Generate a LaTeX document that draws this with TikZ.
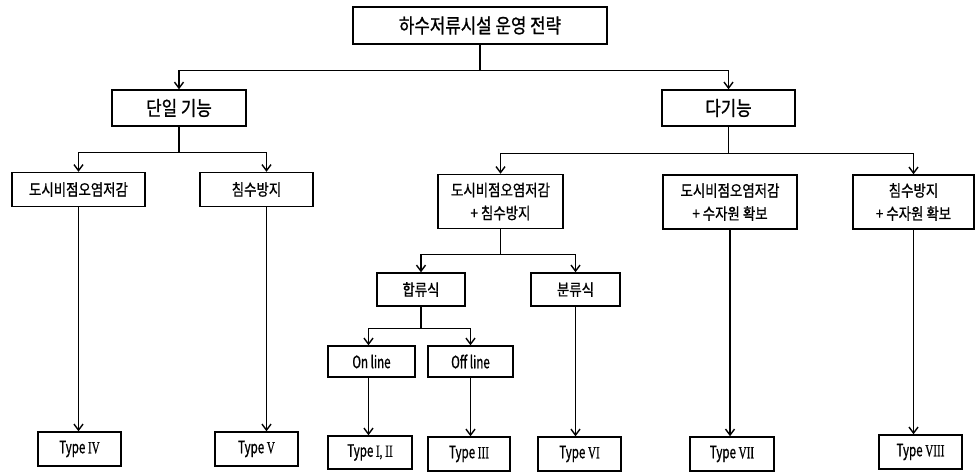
\documentclass[tikz,border=0pt]{standalone}
\usepackage{fontspec}
\setmainfont{Noto Sans CJK KR}[FakeStretch=0.84, FakeBold=0.9]
\newfontfamily\narrowlatin{Noto Sans CJK KR}[FakeStretch=0.68, FakeBold=0.9]
\newfontfamily\numeral{Liberation Serif}[FakeStretch=0.66, FakeBold=0.6]
\usetikzlibrary{arrows.meta}

\newcommand{\rn}[1]{{\numeral #1}}

\tikzset{
  box/.style={draw, line width=1.5pt, inner sep=0pt, align=center,
    minimum width=#1},
  big/.style={font=\fontsize{20}{22}\selectfont, minimum height=36},
  mid/.style={font=\fontsize{16}{23}\selectfont, minimum height=34},
  two/.style={font=\fontsize{16}{23}\selectfont, minimum height=54},
  typ/.style={font=\fontsize{17}{18}\selectfont\narrowlatin, minimum height=34},
  link/.style={line width=1.4pt},
  arr/.style={link, -{Straight Barb[length=6pt,width=9pt,line width=1.4pt]}}
}

\begin{document}
\begin{tikzpicture}[x=1pt, y=-1pt]
  \useasboundingbox (0,0) rectangle (977,475);

  % strategy root and the two main branches
  \node[box=254, big, minimum height=37] (top) at (480,25.5) {하수저류시설 운영 전략};
  \node[box=134, big] (single) at (179,108) {단일 기능};
  \node[box=133, big] (multi) at (728.5,108) {다기능};

  % single-function options
  \node[box=133, mid] (a1) at (78.5,189.5) {도시비점오염저감};
  \node[box=113, mid] (a2) at (256.5,189.5) {침수방지};

  % multi-function options
  \node[box=125, two] (b1) at (500.5,201.5) {도시비점오염저감\\+ 침수방지};
  \node[box=134, two] (b2) at (730,202) {도시비점오염저감\\+ 수자원 확보};
  \node[box=121, two] (b3) at (913.5,202) {침수방지\\+ 수자원 확보};

  % sewer system types
  \node[box=88, mid, minimum height=33] (c1) at (421,289.5) {합류식};
  \node[box=89, mid, minimum height=33] (c2) at (575.5,289.5) {분류식};
  \node[box=87, typ, minimum height=31] (d1) at (371.5,361.5) {On line};
  \node[box=85, typ, minimum height=31] (d2) at (470.5,361.5) {Off line};

  % resulting facility types
  \node[box=83, typ] (t4)  at (79.5,449)   {Type \rn{IV}};
  \node[box=83, typ] (t5)  at (256.5,449)  {Type \rn{V}};
  \node[box=84, typ, minimum height=33] (t12) at (370,452.5) {Type \rn{I, II}};
  \node[box=82, typ] (t3)  at (469,454)    {Type \rn{III}};
  \node[box=83, typ] (t6)  at (579.5,454)  {Type \rn{VI}};
  \node[box=84, typ] (t7)  at (732,454)    {Type \rn{VII}};
  \node[box=83, typ] (t8)  at (920.5,452)  {Type \rn{VIII}};

  % branching connectors
  \draw[arr] (top.south) -- ++(0,26) -| (single.north);
  \draw[arr] (top.south) -- ++(0,26) -| (multi.north);

  \draw[arr] (single.south) -- ++(0,26) -| (a1.north);
  \draw[arr] (single.south) -- ++(0,26) -| ([xshift=10pt]a2.north);

  \draw[arr] (multi.south) -- ++(0,27) -| (b1.north);
  \draw[arr] (multi.south) -- ++(0,27) -| (b3.north);

  \draw[arr] (b1.south) -- ++(0,25) -| (c1.north);
  \draw[arr] (b1.south) -- ++(0,25) -| (c2.north);

  \draw[arr] (c1.south) -- ++(0,22) -| ([xshift=-3pt]d1.north);
  \draw[arr] (c1.south) -- ++(0,22) -| (d2.north);

  % straight drops to the types
  \draw[arr] (a1.south) -- (a1.south |- t4.north);
  \draw[arr] ([xshift=10pt]a2.south) -- ([xshift=10pt]a2.south |- t5.north);
  \draw[arr] ([xshift=-3pt]d1.south) -- ([xshift=-3pt]d1.south |- t12.north);
  \draw[arr] (d2.south) -- (d2.south |- t3.north);
  \draw[arr] (c2.south) -- (c2.south |- t6.north);
  \draw[arr] (b2.south) -- (b2.south |- t7.north);
  \draw[arr] (b3.south) -- (b3.south |- t8.north);
\end{tikzpicture}
\end{document}
